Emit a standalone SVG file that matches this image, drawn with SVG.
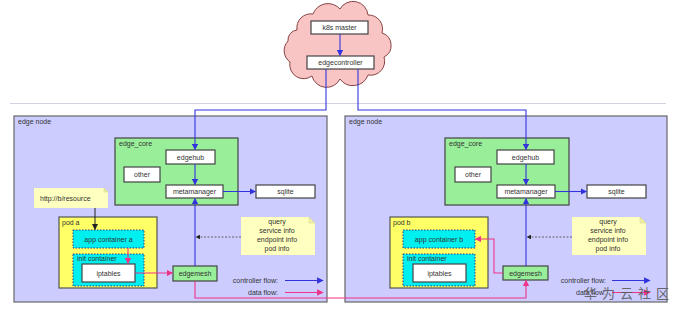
<svg xmlns="http://www.w3.org/2000/svg" width="678" height="313" viewBox="0 0 678 313">
<defs>
<style>
text{font-family:"Liberation Sans","DejaVu Sans",sans-serif;font-size:7px;fill:#333}
.c{text-anchor:middle}
.r{text-anchor:end}
.box{fill:#fff;stroke:#444;stroke-width:1.2}
.node{fill:#ccccff;stroke:#666;stroke-width:1.2}
.core{fill:#99ee99;stroke:#444;stroke-width:1.2}
.pod{fill:#ffff66;stroke:#555;stroke-width:1.2}
.ctr{fill:#00f0f0;stroke:#338;stroke-width:1;stroke-dasharray:1.5,1.5}
.mesh{fill:#99ee99;stroke:#444;stroke-width:1.2}
.note{fill:#ffffc0;stroke:none}
.fold{fill:#f0f0a8;stroke:#cccc88;stroke-width:0.5}
.blue{fill:none;stroke:#3333dd;stroke-width:1.1}
.red{fill:none;stroke:#ee3388;stroke-width:1.1}
.blk{fill:none;stroke:#222;stroke-width:1}
.dash{fill:none;stroke:#444;stroke-width:0.8;stroke-dasharray:2,1.5}
</style>
<marker id="ab" viewBox="0 0 10 10" refX="9" refY="5" markerWidth="6" markerHeight="6" orient="auto"><path d="M0,0 L10,5 L0,10 Z" fill="#3333dd"/></marker>
<marker id="ar" viewBox="0 0 10 10" refX="9" refY="5" markerWidth="6" markerHeight="6" orient="auto"><path d="M0,0 L10,5 L0,10 Z" fill="#ee3388"/></marker>
<marker id="ak" viewBox="0 0 10 10" refX="9" refY="5" markerWidth="6" markerHeight="6" orient="auto"><path d="M0,0 L10,5 L0,10 Z" fill="#222"/></marker>
</defs>
<rect width="678" height="313" fill="#fff"/>
<line x1="10" y1="103.5" x2="666" y2="103.5" stroke="#d8d0e0" stroke-width="1.2"/>

<g id="cloud">
<path d="M297,30 A14,14 0 0 1 313,14 A16,16 0 0 1 340,9 A15,15 0 0 1 368,15 A14,14 0 0 1 382,33 A13,13 0 0 1 384,57 A14,14 0 0 1 368,75 A16,16 0 0 1 340,79 A15,15 0 0 1 312,76 A14,14 0 0 1 290,62 A14,14 0 0 1 288,41 A10,10 0 0 1 297,30 Z" fill="#f8c4c4" stroke="#884444" stroke-width="1"/>
</g>
<g id="k8s-master"><rect class="box" x="311" y="21" width="57" height="13"/><text class="c" x="339.5" y="30">k8s master</text></g>
<g id="edgecontroller"><rect class="box" x="307" y="56" width="67" height="13"/><text class="c" x="340.5" y="65">edgecontroller</text></g>

<g id="edge-node-a">
<rect class="node" x="14" y="116" width="313" height="186"/>
<text x="18" y="124">edge node</text>
</g>
<g id="edge-core-a"><rect class="core" x="115" y="138" width="123" height="67"/><text x="119" y="146">edge_core</text></g>
<g id="edgehub-a"><rect class="box" x="166" y="150" width="49" height="14"/><text class="c" x="190.5" y="159.5">edgehub</text></g>
<g id="other-a"><rect class="box" x="124" y="167" width="36" height="15"/><text class="c" x="142" y="177">other</text></g>
<g id="metamanager-a"><rect class="box" x="166" y="185" width="57" height="13"/><text class="c" x="194.5" y="194">metamanager</text></g>
<g id="sqlite-a"><rect class="box" x="256" y="185" width="59" height="13"/><text class="c" x="285.5" y="194">sqlite</text></g>
<g id="note-http"><path class="note" d="M34,188 H104 L108,192 V208 H34 Z"/><path class="fold" d="M104,188 L104,192 L108,192 Z"/><text x="40" y="201">http://b/resource</text></g>
<g id="pod-a"><rect class="pod" x="59" y="217" width="98" height="71"/><text x="62" y="225">pod a</text></g>
<g id="app-container-a"><rect class="ctr" x="73" y="230" width="71" height="18"/><text class="c" x="108.5" y="241.5">app container a</text></g>
<g id="init-container-a"><rect class="ctr" x="73" y="254" width="71" height="32"/><text x="77" y="261">init container</text></g>
<g id="iptables-a"><rect class="box" x="82" y="264" width="53" height="18"/><text class="c" x="108.5" y="275.5">iptables</text></g>
<g id="edgemesh-a"><rect class="mesh" x="173" y="266" width="44" height="15"/><text class="c" x="195" y="276">edgemesh</text></g>
<g id="note-query-a"><path class="note" d="M241,217 H309 L315,223 V255 H241 Z"/><path class="fold" d="M309,217 L309,223 L315,223 Z"/>
<text class="c" x="277" y="224">query</text><text class="c" x="277" y="233">service info</text><text class="c" x="277" y="242">endpoint info</text><text class="c" x="277" y="251">pod info</text></g>
<g id="legend-a"><text class="r" x="278" y="283">controller flow:</text><text class="r" x="278" y="295">data flow:</text></g>

<g id="edge-node-b">
<rect class="node" x="345" y="116" width="322" height="186"/>
<text x="349" y="124">edge node</text>
</g>
<g id="edge-core-b"><rect class="core" x="445" y="138" width="124" height="67"/><text x="449" y="146">edge_core</text></g>
<g id="edgehub-b"><rect class="box" x="497" y="150" width="57" height="14"/><text class="c" x="525.5" y="159.5">edgehub</text></g>
<g id="other-b"><rect class="box" x="455" y="167" width="36" height="15"/><text class="c" x="473" y="177">other</text></g>
<g id="metamanager-b"><rect class="box" x="497" y="185" width="58" height="13"/><text class="c" x="526" y="194">metamanager</text></g>
<g id="sqlite-b"><rect class="box" x="587" y="185" width="59" height="13"/><text class="c" x="616.5" y="194">sqlite</text></g>
<g id="pod-b"><rect class="pod" x="390" y="217" width="98" height="71"/><text x="393" y="225">pod b</text></g>
<g id="app-container-b"><rect class="ctr" x="403" y="230" width="72" height="18"/><text class="c" x="439" y="241.5">app container b</text></g>
<g id="init-container-b"><rect class="ctr" x="403" y="254" width="72" height="32"/><text x="407" y="261">init container</text></g>
<g id="iptables-b"><rect class="box" x="413" y="264" width="53" height="18"/><text class="c" x="439.5" y="275.5">iptables</text></g>
<g id="edgemesh-b"><rect class="mesh" x="503" y="266" width="45" height="14"/><text class="c" x="525.5" y="275.5">edgemesh</text></g>
<g id="note-query-b"><path class="note" d="M572,217 H640 L646,223 V255 H572 Z"/><path class="fold" d="M640,217 L640,223 L646,223 Z"/>
<text class="c" x="608" y="224">query</text><text class="c" x="608" y="233">service info</text><text class="c" x="608" y="242">endpoint info</text><text class="c" x="608" y="251">pod info</text></g>
<g id="legend-b"><text class="r" x="606" y="283">controller flow:</text><text class="r" x="606" y="295">data flow:</text></g>

<g id="connectors">
<line class="blue" x1="340" y1="34" x2="340" y2="55.5" marker-end="url(#ab)"/>
<polyline class="blue" points="326,69 326,110 195,110 195,149.5" marker-end="url(#ab)"/>
<polyline class="blue" points="358,69 358,110 526,110 526,149.5" marker-end="url(#ab)"/>
<line class="blue" x1="195" y1="164" x2="195" y2="184.5" marker-end="url(#ab)"/>
<line class="blue" x1="526" y1="164" x2="526" y2="184.5" marker-end="url(#ab)"/>
<line class="blue" x1="223" y1="191.5" x2="255.5" y2="191.5" marker-end="url(#ab)"/>
<line class="blue" x1="555" y1="191.5" x2="586.5" y2="191.5" marker-end="url(#ab)"/>
<line class="blue" x1="195" y1="266" x2="195" y2="198.5" marker-end="url(#ab)"/>
<line class="blue" x1="526" y1="266" x2="526" y2="198.5" marker-end="url(#ab)"/>
<line class="dash" x1="241" y1="237" x2="196" y2="237" marker-end="url(#ak)"/>
<line class="dash" x1="572" y1="237" x2="527" y2="237" marker-end="url(#ak)"/>
<line class="blk" x1="95" y1="208" x2="95" y2="229.5" marker-end="url(#ak)"/>
<line class="red" x1="128" y1="248" x2="128" y2="263.5" marker-end="url(#ar)"/>
<line class="red" x1="135" y1="273" x2="172.5" y2="273" marker-end="url(#ar)"/>
<polyline class="red" points="195,281 195,298 526,298 526,280.5" marker-end="url(#ar)"/>
<polyline class="red" points="503,273 494,273 494,239 475.5,239" marker-end="url(#ar)"/>
<line class="blue" x1="285" y1="280.5" x2="323" y2="280.5" marker-end="url(#ab)"/>
<line class="red" x1="285" y1="292.5" x2="323" y2="292.5" marker-end="url(#ar)"/>
<line class="blue" x1="612" y1="280.5" x2="650" y2="280.5" marker-end="url(#ab)"/>
<line class="red" x1="612" y1="292.5" x2="650" y2="292.5" marker-end="url(#ar)"/>
</g>
<text x="584" y="298" style="font-family:'Noto Sans CJK SC',sans-serif;font-size:13px;fill:#555;opacity:0.85;letter-spacing:5px">华为云社区</text>
</svg>
